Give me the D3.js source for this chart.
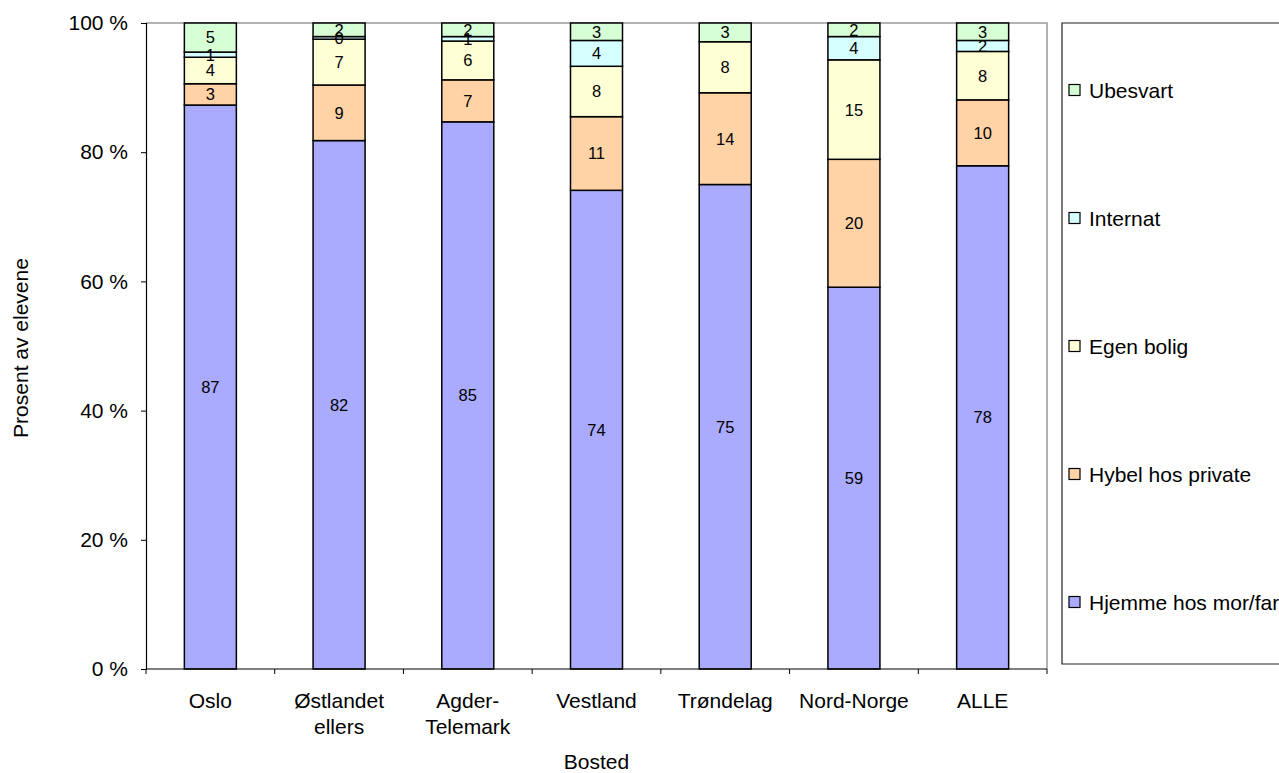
<!DOCTYPE html>
<html><head><meta charset="utf-8">
<script src="https://cdn.jsdelivr.net/npm/d3@7"></script>
<style>
html,body{margin:0;padding:0;background:#fff;}
svg{display:block;font-family:"Liberation Sans",Arial,sans-serif;}
</style></head>
<body>
<svg id="chart" width="1279" height="773"></svg>
<script>
const categories = [["Oslo"],["Østlandet","ellers"],["Agder-","Telemark"],["Vestland"],["Trøndelag"],["Nord-Norge"],["ALLE"]];
const seriesNames = ["Hjemme hos mor/far","Hybel hos private","Egen bolig","Internat","Ubesvart"];
const hjemme   = [87.3, 81.8, 84.7, 74.1, 75.0, 59.1, 77.9];
const hybel    = [3.3, 8.6, 6.5, 11.4, 14.2, 19.8, 10.2];
const egen     = [4.1, 7.1, 6.0, 7.8, 7.9, 15.4, 7.5];
const internat = [0.8, 0.4, 0.7, 4.0, 0, 3.6, 1.7];
const ubesvart = [4.5, 2.1, 2.1, 2.7, 2.9, 2.1, 2.7];
const yTicks = [0, 20, 40, 60, 80, 100];
const colors = ["#aaaaff","#ffd3a6","#ffffd6","#d6ffff","#d6ffd6"];

(function(){
const seriesValues = [hjemme, hybel, egen, internat, ubesvart];
const svg = d3.select("#chart");
const pL = 146, pR = 1047, pT = 23, pB = 669;
const FS = 21;

const x = d3.scaleBand().domain(d3.range(categories.length)).range([pL, pR]).paddingInner(0.596).paddingOuter(0.298);
const y = d3.scaleLinear().domain([0, 100]).range([pB, pT]);

svg.append("path").attr("d", `M${pL},${pT}H${pR}V${pB}`).attr("fill","none").attr("stroke","#999").attr("stroke-width",1.5);

const rows = categories.map((c, i) => {
  const o = {i};
  seriesNames.forEach((s, k) => o[s] = seriesValues[k][i]);
  return o;
});
const stack = d3.stack().keys(seriesNames)(rows);

const g = svg.append("g");
stack.forEach((layer, k) => {
  layer.forEach((d, i) => {
    if (seriesValues[k][i] <= 0) return;
    g.append("rect")
      .attr("x", x(i)).attr("width", x.bandwidth())
      .attr("y", y(d[1])).attr("height", y(d[0]) - y(d[1]))
      .attr("fill", colors[k]).attr("stroke", "#000").attr("stroke-width", 1.5);
  });
});
stack.forEach((layer, k) => {
  layer.forEach((d, i) => {
    const v = seriesValues[k][i];
    if (v <= 0) return;
    g.append("text")
      .attr("x", x(i) + x.bandwidth()/2)
      .attr("y", (y(d[0]) + y(d[1]))/2)
      .attr("dy", "0.36em")
      .attr("text-anchor", "middle")
      .attr("font-size", 16.5).attr("fill", "#000")
      .text(Math.round(v));
  });
});

// y axis
const yAxis = svg.append("g").attr("transform", `translate(${pL},0)`)
  .call(d3.axisLeft(y).tickValues(yTicks).tickSize(5).tickPadding(13).tickFormat(d => d + " %"));
yAxis.select(".domain").attr("stroke","#000").attr("stroke-width",1.2);
yAxis.selectAll(".tick line").attr("stroke","#000");
yAxis.selectAll("text").attr("font-size", FS).attr("fill","#000").attr("font-family","Liberation Sans, Arial, sans-serif");

// x axis
const xb = d3.scaleLinear().domain([0, categories.length]).range([pL, pR]);
svg.append("line").attr("x1", pL).attr("x2", pR).attr("y1", pB).attr("y2", pB).attr("stroke","#000").attr("stroke-width",1.2);
d3.range(categories.length + 1).forEach(i => {
  svg.append("line").attr("x1", xb(i)).attr("x2", xb(i)).attr("y1", pB).attr("y2", pB + 5).attr("stroke","#000");
});
categories.forEach((lines, i) => {
  const cx = x(i) + x.bandwidth()/2;
  const t = svg.append("text").attr("x", cx).attr("y", 708)
    .attr("text-anchor","middle").attr("font-size",FS).attr("fill","#000");
  lines.forEach((l, j) => t.append("tspan").attr("x", cx).attr("dy", j === 0 ? 0 : 26).text(l));
});

// axis titles
svg.append("text").attr("x", (pL + pR)/2).attr("y", 769).attr("text-anchor","middle").attr("font-size",FS).text("Bosted");
svg.append("text").attr("transform", `translate(28,348) rotate(-90)`).attr("text-anchor","middle").attr("font-size",FS).text("Prosent av elevene");

// legend
svg.append("path").attr("d", "M1290,23H1062V664H1290").attr("fill","#fff").attr("stroke","#222").attr("stroke-width",1.2);
const legendY = [602, 474, 346, 218, 90];
seriesNames.forEach((s, k) => {
  svg.append("rect").attr("x", 1069).attr("y", legendY[k] - 5.5).attr("width", 11).attr("height", 11)
    .attr("fill", colors[k]).attr("stroke","#000").attr("stroke-width",1.2);
  svg.append("text").attr("x", 1089).attr("y", legendY[k]).attr("dy","0.36em").attr("font-size",FS).text(s);
});
})();
</script>
</body></html>
